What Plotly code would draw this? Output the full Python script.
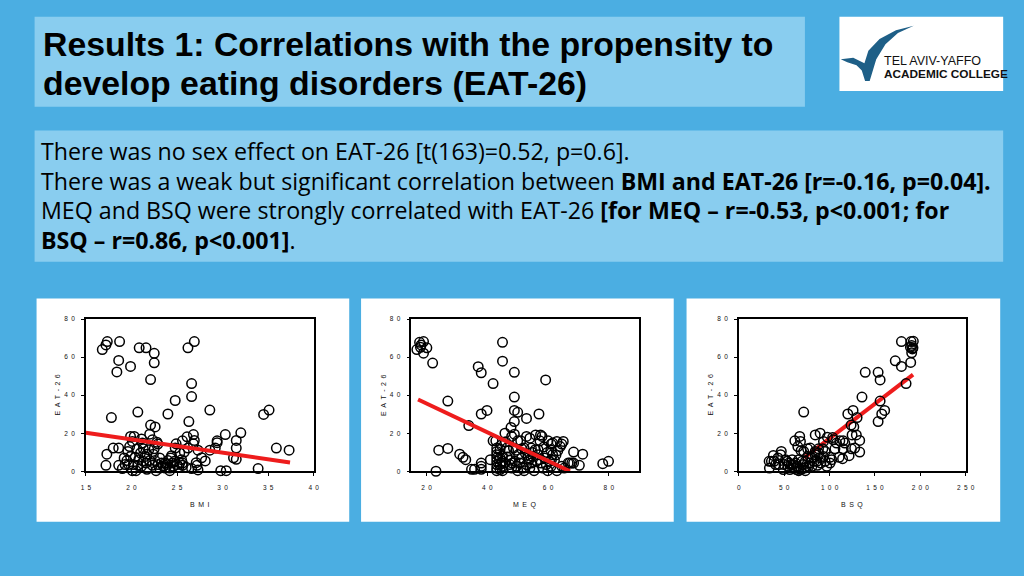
import plotly.graph_objects as go

# ---------------- data ----------------
bmi = [16.8,17.2,17.35,18.7,20.85,21.6,22.5,22.5,18.6,18.4,19.9,22.1,26.2,26.9,26.6,26.6,24.8,24.0,26.3,28.6,
       20.7,17.8,34.5,35.1,35.9,37.3,32.0,30.3,31.5,31.5,31.2,31.5,29.4,29.4,29.2,28.6,28.1,27.7,29.8,30.4,
       33.9,26.8,26.9,26.8,26.1,25.6,27.3,27.1,27.2,26.6,27.3,26.0,24.9,24.8,25.3,25.5,25.6,25.8,26.2,
       17.2,17.3,18.0,18.6,18.6,19.0,19.5,19.6,19.8,19.9,20.3,20.1,20.1,20.2,20.4,20.6,20.8,20.5,21.0,21.1,
       21.2,21.3,21.5,21.6,21.7,22.0,22.0,22.1,22.6,22.3,22.5,22.8,22.9,22.4,22.6,22.7,22.9,23.1,23.3,23.5,
       23.7,23.8,23.9,24.0,24.2,24.2,24.3,24.4,24.5,24.6,24.7,25.0,25.2,19.7,19.9,19.3,19.2,21.9,21.7,20.7,
       21.1,21.3,22.3,23.7,23.1,25.3,25.6]
eat_bmi = [64,66.4,68.2,68.2,64.9,64.9,62,57,58.3,52.2,55.1,48.2,64.9,68.2,46.1,39.3,37.2,30.1,26.1,32.2,
           31.1,28.2,29.9,32.2,12.2,11.1,20.2,19.3,16.2,12.2,7.1,6.3,16,15,12.2,11.1,5.4,7.1,0.3,0.3,
           1.4,19.3,16.2,14.4,18.1,16,11.1,4.5,3.1,1.4,0.7,2.1,14.4,12.2,9.6,6.1,4.3,10.1,12.2,
           3.1,9.0,12.2,12.2,3.1,1.4,5.6,10.4,13,18.3,18.3,15.7,0.3,3.5,7.3,11.8,6.1,0.3,9.6,17.0,
           14.8,11.8,7.8,4.3,1.0,5.6,19.5,24.3,23.3,16.5,11.8,15.3,14.3,9.0,5.6,0.3,3.5,7.0,4.3,2.6,
           4.3,2.1,3.5,5.6,1.7,0.3,7.0,8.2,4.3,2.6,5.2,3.5,2.1,3.5,7.8,3.5,7.0,11.3,9.0,3.1,
           2.6,5.2,3.1,1.7,1.7,4.3,3.1]

meq = [16.8,17.7,18.2,19.0,18.0,20.1,19.0,22.0,24.0,23.1,27.0,27.0,30.9,32.0,32.9,33.9,34.8,35.8,38.0,38.0,
       38.0,37.0,38.0,38.0,39.9,41.0,41.9,45.0,45.0,48.9,48.9,48.9,50.0,48.9,47.8,52.9,57.0,59.2,41.9,42.8,
       45.8,48.0,48.9,50.0,51.0,52.9,54.0,55.9,57.5,58.0,57.3,60.0,56.7,54.5,52.1,51.3,48.6,46.4,47.0,
       43.1,43.1,43.1,43.1,43.1,43.1,43.1,43.1,44.2,44.2,44.2,44.2,45.0,45.0,45.0,45.0,
       45.8,47.4,48.0,48.2,49.1,49.6,50.0,50.7,51.3,51.8,52.1,52.9,53.4,54.0,54.5,55.0,55.4,55.8,56.7,57.2,
       57.7,58.3,58.8,59.4,59.9,60.5,61.0,61.5,61.5,61.0,62.9,63.2,64.0,64.5,65.0,64.5,65.3,66.6,62.9,61.1,
       62.1,68.4,71.4,70.3,67.1,67.8,68.4,78.0,79.9,52.5,54.8,56.2,53.7,50.3,46.5,47.5,49.5,44.6,46.0,58.6,
       59.7,60.9,62.6]
eat_meq = [64,67.8,66.4,68.2,65.2,64.9,62.1,56.9,11.1,0,36.9,12,9.0,7.3,6.1,24,1.0,1.0,4.3,2.6,
           1.0,55,51.8,30.1,32,6.1,46.1,67.8,57.9,52,39,32,31,26.1,23,27.8,30.1,48,16,16,
           20,18.3,19.5,16,16,18.3,17.4,19.1,19.1,18.3,16,16,11.3,12.2,12.2,11.8,12.2,12.2,10.8,
           12.2,10.4,8.7,7.0,5.2,3.5,1.7,0.3,11.5,7.0,3.5,0.9,0.3,2.6,5.2,7.8,
           4.3,3.5,1.7,4.3,5.2,2.6,0.3,4.3,7.0,1.7,0.3,3.5,7.0,1.7,4.3,7.8,0.3,11.3,8.7,6.1,
           4.3,1.7,7.0,3.5,0.3,5.2,2.6,8.7,14.8,14.3,15.7,10.8,13,14.3,15.7,2.6,1.7,4.3,0.3,6.1,
           5.8,10.1,9,3.1,4.3,4.3,4.3,4,5.2,9.5,9.8,5.5,5.8,8.8,7.5,5.8,11.0,13.8,15.5,12.8,
           9.8,11.2,8.6]

bsq = [179.2,189.8,192.3,189.1,191.2,191.9,190.5,190.5,172.4,179.2,189.4,184.3,153.5,155.7,139.3,135.7,155.7,
       160.7,157.5,153.5,125.9,120.1,130.3,123.7,126.7,71.5,124.8,129.5,133.2,133.2,127.7,124.1,121.5,115.0,
       111.3,116.8,107.7,104.1,103.4,97.6,105.9,115.0,114.3,110.6,100.5,102.3,100.5,89.6,84.2,93.3,92.6,87.8,
       78.7,67.1,67.9,61.7,65.0,68.6,71.5,75.8,96.9,95.1,93.3,89.6,86.0,84.2,80.6,78.0,75.8,74.4,73.3,70.8,
       68.6,66.0,64.2,62.4,60.6,58.8,57.7,56.2,53.3,51.5,49.0,46.8,46.1,43.2,40.6,38.1,35.9,33.7,33.4,38.8,
       44.3,49.7,54.1,55.2,59.9,63.5,66.4,69.7,72.2,76.9,80.6,83.1,86.7,90.3,73.3,66.0,84.2,87.8,95.1]
eat_bsq = [68.2,68.2,68.3,65.2,64.3,64.9,62.3,66.1,58.1,55.1,57.2,46.1,52,48,52,39,36.9,
           32,30.1,26.1,32,30.1,28.2,24.3,23.3,31.1,19.1,19.1,16.2,10.1,12.2,11.8,8.2,16,
           16,14.8,14.8,16.5,17.7,17.9,11.8,11.8,6.6,7.3,7.3,6.1,4.3,20,19.1,15.7,11.8,11.8,
           12.2,18.3,15.7,16,13,10.8,10.4,11.8,2.6,5.2,7.8,7.0,5.2,8.7,7.0,4.3,7.8,2.1,5.2,3.5,
           0.9,6.1,2.6,4.3,1.7,6.1,3.5,0.9,5.2,6.1,0.9,10.4,8.7,7.0,3.5,8.3,5.2,1.7,5.2,5.2,
           3.5,3.5,2.6,4.3,3.5,0.9,1.4,5.2,1.7,2.6,2.6,5.2,3.1,4.3,0.3,0.3,10.4,9.6,10.4]

fit_bmi_x, fit_bmi_y = [15.0, 37.4], [20.3, 4.6]
fit_meq_x, fit_meq_y = [17.2, 67.2], [37.7, 0.0]
fit_bsq_x, fit_bsq_y = [72.0, 192.0], [7.0, 50.8]

y_ticks = [0, 20, 40, 60, 80]
bmi_ticks = [15, 20, 25, 30, 35, 40]
meq_ticks = [20, 40, 60, 80]
bsq_ticks = [0, 50, 100, 150, 200, 250]

SP = "\u2002"  # en space for letter-spaced labels
def spaced(v):
    return SP.join(str(v))

# ---------------- geometry helpers ----------------
W, H = 1024, 576
def fx(p): return p / W
def fy(p): return 1 - p / H

BG = "#4BAEE2"
BOX = "#89CDEF"
RED = "#EE1C1C"

fig = go.Figure()

panels = [
    dict(data=(bmi, eat_bmi), fit=(fit_bmi_x, fit_bmi_y), ticks=bmi_ticks, rng=[15, 40],
         dom=(82, 313), title="BMI", line_on_top=True),
    dict(data=(meq, eat_meq), fit=(fit_meq_x, fit_meq_y), ticks=meq_ticks, rng=[15, 90],
         dom=(412, 643), title="MEQ", line_on_top=True),
    dict(data=(bsq, eat_bsq), fit=(fit_bsq_x, fit_bsq_y), ticks=bsq_ticks, rng=[0, 250],
         dom=(744, 974), title="BSQ", line_on_top=False),
]

AF = "Liberation Sans, Arial, sans-serif"
axis_font = dict(family=AF, size=6.5, color="#111")
PT, PB = 319, 473

for i, p in enumerate(panels, start=1):
    sfx = "" if i == 1 else str(i)
    xs, ys = p["data"]
    scat = go.Scatter(x=xs, y=ys, mode="markers", xaxis="x" + sfx, yaxis="y" + sfx,
                      marker=dict(symbol="circle-open", size=9.5, color="#000",
                                  line=dict(width=1.5, color="#000")),
                      cliponaxis=False, showlegend=False, hoverinfo="skip")
    fit = go.Scatter(x=p["fit"][0], y=p["fit"][1], mode="lines", xaxis="x" + sfx, yaxis="y" + sfx,
                     line=dict(color=RED, width=4), showlegend=False, hoverinfo="skip")
    if p["line_on_top"]:
        fig.add_trace(scat); fig.add_trace(fit)
    else:
        fig.add_trace(fit); fig.add_trace(scat)

    common = dict(showline=True, linecolor="#000", linewidth=1.5, mirror=True, showgrid=False,
                  zeroline=False, ticks="outside", ticklen=3, tickwidth=1.2, tickcolor="#000",
                  tickfont=axis_font, fixedrange=True)
    fig.update_layout(**{
        "xaxis" + sfx: dict(domain=[fx(p["dom"][0]), fx(p["dom"][1])], range=p["rng"],
                            anchor="y" + sfx, tickmode="array", tickvals=p["ticks"],
                            ticktext=[spaced(t) for t in p["ticks"]], ticklabelstandoff=6, **common),
        "yaxis" + sfx: dict(domain=[fy(PB), fy(PT)], range=[0, 80], anchor="x" + sfx,
                            tickmode="array", tickvals=y_ticks,
                            ticktext=[spaced(t) for t in y_ticks], ticklabelstandoff=5, **common),
    })
    cx = (p["dom"][0] + p["dom"][1]) / 2
    fig.add_annotation(x=fx(cx), y=fy(507), xref="paper", yref="paper", text=spaced(p["title"]),
                       showarrow=False, font=dict(family=AF, size=7, color="#111"),
                       xanchor="center", yanchor="middle")
    fig.add_annotation(x=fx(p["dom"][0] - 29), y=fy((PT + PB) / 2), xref="paper", yref="paper",
                       text=spaced("EAT-26"), textangle=-90, showarrow=False,
                       font=dict(family=AF, size=7, color="#111"),
                       xanchor="center", yanchor="middle")

# ---------------- decorative boxes ----------------
shapes = []
def rect(x0, y0, x1, y1, color):
    shapes.append(dict(type="rect", xref="paper", yref="paper", x0=fx(x0), x1=fx(x1), y0=fy(y1), y1=fy(y0),
                       fillcolor=color, line=dict(width=0), layer="below"))

rect(30, 13, 811, 104, BOX)
rect(846, 13, 1012, 88, "#FFFFFF")
rect(30, 128, 1012, 261, BOX)
rect(32, 298, 349, 524, "#FFFFFF")
rect(361, 298, 678, 524, "#FFFFFF")
rect(691, 298, 1009, 524, "#FFFFFF")

# logo swoosh (zoomed-logo coordinates -> page pixels)
sw = [(22,138),(60,133),(94,150),(106,112),(140,76),(190,50),(244,36),(196,58),(158,92),(130,138),
      (110,204),(96,204),(86,172),(70,156),(42,147)]
pts = [(840 + a / 3, 10 + b / 3) for a, b in sw]
path = "M " + " L ".join(f"{fx(x):.5f},{fy(y):.5f}" for x, y in pts) + " Z"
shapes.append(dict(type="path", xref="paper", yref="paper", path=path, fillcolor="#1E5F87",
                   line=dict(width=0), layer="above"))
fig.update_layout(shapes=shapes)

# ---------------- texts ----------------
def ann(x, y, text, size, family, color="#000", xanchor="left", yanchor="middle"):
    fig.add_annotation(x=fx(x), y=fy(y), xref="paper", yref="paper", text=text, showarrow=False,
                       xanchor=xanchor, yanchor=yanchor, align="left",
                       font=dict(size=size, family=family, color=color))

TF = "Liberation Sans, Arial, sans-serif"
ann(37, 40, "<b>Results 1: Correlations with the propensity to</b>", 33.8, TF)
ann(37, 80, "<b>develop eating disorders (EAT-26)</b>", 33.8, TF)

BF = "Open Sans, sans-serif"
BS = 23.2
ann(34, 149, "There was no sex effect on EAT-26 [t(163)=0.52, p=0.6].", BS, BF)
ann(34, 179, "There was a weak but significant correlation between <b>BMI and EAT-26 [r=-0.16, p=0.04].</b>", BS, BF)
ann(34, 209, "MEQ and BSQ were strongly correlated with EAT-26 <b>[for MEQ – r=-0.53, p<0.001; for</b>", BS, BF)
ann(34, 239, "<b>BSQ – r=0.86, p<0.001]</b>.", BS, BF)

ann(889, 58, "TEL AVIV-YAFFO", 12.5, TF, color="#111")
ann(889, 71, "<b>ACADEMIC COLLEGE</b>", 11.8, TF, color="#111")

fig.update_layout(width=W, height=H, autosize=False, margin=dict(l=0, r=0, t=0, b=0, pad=0),
                  paper_bgcolor=BG, plot_bgcolor="#FFFFFF")

fig.write_html("out.html", config={"displayModeBar": False},
               post_script="document.body.style.margin='0';document.body.style.overflow='hidden';")
